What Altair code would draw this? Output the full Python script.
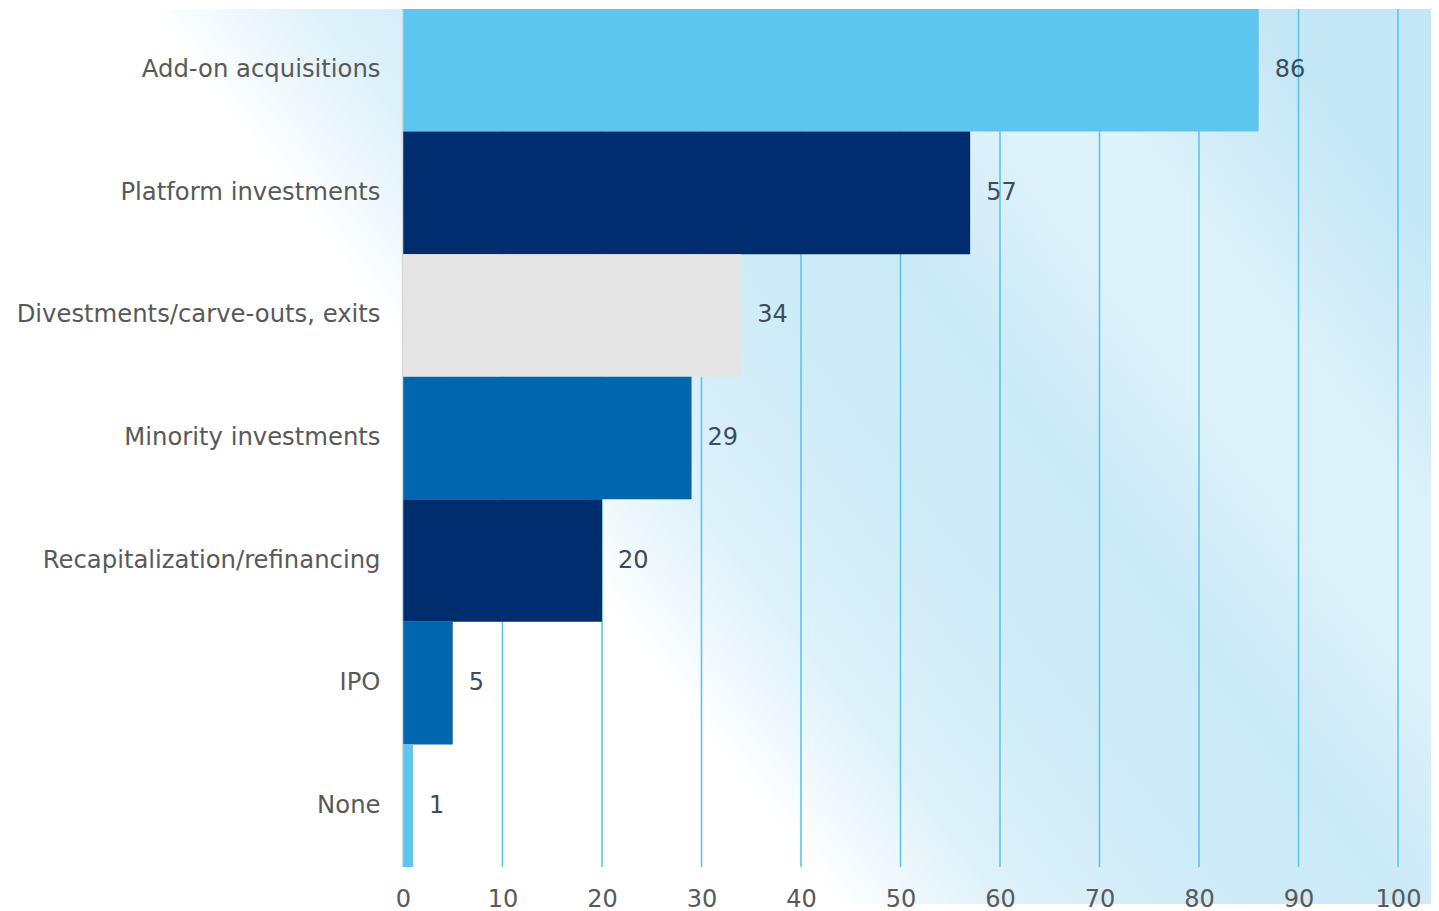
import altair as alt
import pandas as pd

categories = [
    "Add-on acquisitions",
    "Platform investments",
    "Divestments/carve-outs, exits",
    "Minority investments",
    "Recapitalization/refinancing",
    "IPO",
    "None",
]
values = [86, 57, 34, 29, 20, 5, 1]
bar_colors = ["#5EC5EE", "#002D6E", "#E5E5E5", "#0066AE", "#002D6E", "#0066AE", "#5EC5EE"]
x_ticks = [0, 10, 20, 30, 40, 50, 60, 70, 80, 90, 100]

df = pd.DataFrame({"category": categories, "value": values, "color": bar_colors})
ticks_df = pd.DataFrame({"tick": x_ticks})
bg_df = pd.DataFrame({"bg": [0]})

FONT = "DejaVu Sans"
W = 995
H = 858

gradient = alt.LinearGradient(
    gradient="linear",
    x1=0, y1=0.742, x2=1, y2=0.258,
    stops=[
        alt.GradientStop(color="#FFFFFF", offset=0.0),
        alt.GradientStop(color="#FFFFFF", offset=0.37),
        alt.GradientStop(color="#DDF1FA", offset=0.47),
        alt.GradientStop(color="#CFECF8", offset=0.58),
        alt.GradientStop(color="#CBEAF8", offset=0.70),
        alt.GradientStop(color="#DDF1FA", offset=0.80),
        alt.GradientStop(color="#DCF1FA", offset=0.88),
        alt.GradientStop(color="#C4E7F6", offset=1.0),
    ],
)

bg = alt.Chart(bg_df).mark_rect(fill=gradient, stroke=None).encode(
    x=alt.value(-395), x2=alt.value(1028), y=alt.value(0), y2=alt.value(895)
)

xscale = alt.Scale(domain=[0, 100], nice=False, zero=True)


def x_axis():
    return alt.Axis(
        title=None,
        values=x_ticks,
        labelFont=FONT,
        labelFontSize=24,
        labelColor="#595959",
        labelPadding=20,
        labelFlush=False,
        ticks=False,
        domain=False,
        grid=False,
        zindex=2,
        orient="bottom",
    )


def y_axis():
    return alt.Axis(
        title=None,
        labelFont=FONT,
        labelFontSize=24.3,
        labelColor="#595959",
        labelPadding=22,
        labelLimit=500,
        ticks=False,
        domain=True,
        domainColor="#D9D9D9",
        domainWidth=1.5,
        offset=1,
        zindex=2,
        grid=False,
    )


yscale = alt.Scale(paddingInner=0, paddingOuter=0)

rules = alt.Chart(ticks_df).mark_rule(color="#5BC5F0", strokeWidth=1.6).encode(
    x=alt.X("tick:Q", scale=xscale, axis=x_axis())
)

bars = alt.Chart(df).mark_bar(stroke=None).encode(
    x=alt.X("value:Q", scale=xscale, axis=x_axis()),
    y=alt.Y("category:N", sort=categories, scale=yscale, axis=y_axis()),
    color=alt.Color("color:N", scale=None, legend=None),
)

text = alt.Chart(df).mark_text(
    align="left", baseline="middle", dx=16, font=FONT, fontSize=24, color="#3F4B5E"
).encode(
    x=alt.X("value:Q", scale=xscale, axis=x_axis()),
    y=alt.Y("category:N", sort=categories, scale=yscale, axis=y_axis()),
    text=alt.Text("value:Q"),
)

chart = alt.layer(bg, rules, bars, text).properties(
    width=W, height=H, padding=0
).configure_view(stroke=None)

chart.save("out.html", embed_options={"renderer": "svg", "actions": False})
